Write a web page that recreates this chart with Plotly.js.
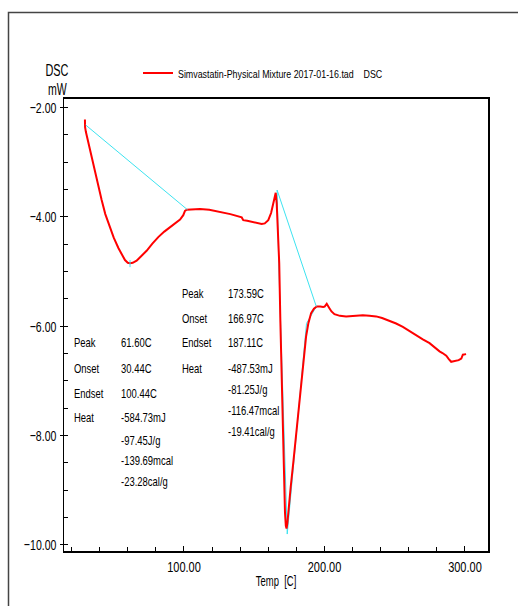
<!DOCTYPE html>
<html>
<head>
<meta charset="utf-8">
<script src="https://cdn.plot.ly/plotly-3.0.1.min.js"></script>
<style>html,body{margin:0;padding:0;background:#fff;}#chart{width:518px;height:606px;}</style>
</head>
<body>
<div id="chart"></div>
<script>
// ---- data ----
const temp = [29.5, 29.6, 30.2, 31.5, 33.1, 35, 36.7, 39, 41.4, 44, 47.3, 50, 53.3, 56, 58, 60, 61.6, 63.5, 66.3, 69.5, 73.4, 77.5, 81.7, 86, 90, 94, 97.2, 99.5, 100.7, 102, 106, 111.4, 118, 125.6, 133, 141.1, 142.2, 145, 149.3, 152, 155.3, 157.5, 160, 162, 163.6, 165.3, 166.0, 167.0, 167.8, 168.6, 169.5, 170.7, 171.9, 172.5, 173.0, 173.6, 174.2, 176, 178, 180, 182, 183.6, 184.5, 186.9, 188.5, 190.5, 192.5, 194.5, 197, 199, 200.1, 201.6, 203.5, 205, 207.1, 211, 215.4, 221, 227.3, 232, 236.8, 241, 246.3, 251, 255.8, 260, 265.3, 270, 274.8, 278, 281.9, 284, 286.7, 288.5, 290.2, 292, 293.8, 295.5, 297.4, 298.5, 300.8];
const dsc = [-2.22, -2.36, -2.45, -2.6, -2.78, -3.0, -3.2, -3.45, -3.69, -3.95, -4.18, -4.38, -4.57, -4.71, -4.79, -4.84, -4.85, -4.84, -4.8, -4.72, -4.62, -4.49, -4.37, -4.27, -4.19, -4.11, -4.05, -3.97, -3.89, -3.87, -3.86, -3.855, -3.87, -3.91, -3.95, -4.01, -4.06, -4.07, -4.09, -4.11, -4.13, -4.12, -4.06, -3.93, -3.76, -3.56, -3.75, -4.3, -4.85, -5.9, -6.98, -8.2, -9.41, -9.65, -9.7, -9.6, -9.41, -8.93, -8.45, -7.93, -7.35, -6.97, -6.8, -6.19, -5.95, -5.76, -5.68, -5.64, -5.64, -5.65, -5.64, -5.59, -5.67, -5.73, -5.78, -5.81, -5.82, -5.81, -5.8, -5.81, -5.82, -5.85, -5.9, -5.95, -6.01, -6.08, -6.16, -6.24, -6.31, -6.38, -6.46, -6.49, -6.54, -6.6, -6.65, -6.64, -6.63, -6.62, -6.59, -6.52, -6.51];

// baselines / peak fits (cyan)
const base1Temp = [30.0, 102.5];
const base1Dsc = [-2.32, -3.87];
const base2Temp = [166.3, 194.2];
const base2Dsc = [-3.51, -5.64];
const fit2Temp = [166.3, 167.5, 173.5, 184.4, 187.2, 194.2];
const fit2Dsc = [-3.51, -4.9, -9.8, -6.8, -5.95, -5.64];
const mark1Temp = [61.6, 61.6];
const mark1Dsc = [-4.79, -4.92];

const yTicks = [-10, -8, -6, -4, -2];
const xTicks = [100, 200, 300];

const seriesName = 'Simvastatin-Physical Mixture 2017-01-16.tad\u00A0\u00A0\u00A0\u00A0DSC';
const statNames1 = ['Peak', 'Onset', 'Endset', 'Heat'];
const statVals1 = ['61.60C', '30.44C', '100.44C', '-584.73mJ', '-97.45J/g', '-139.69mcal', '-23.28cal/g'];
const statNames2 = ['Peak', 'Onset', 'Endset', 'Heat'];
const statVals2 = ['173.59C', '166.97C', '187.11C', '-487.53mJ', '-81.25J/g', '-116.47mcal', '-19.41cal/g'];

// ---- layout helpers ----
const FONT = 'Liberation Sans, Arial, sans-serif';
const L = 64, R = 488, T = 99, B = 551, W = 518, H = 606;
const px2x = p => (p - L) / (R - L);
const px2y = p => (B - p) / (B - T);

const cyan = '#3de3f0';
const traces = [
  {x: fit2Temp, y: fit2Dsc, mode: 'lines', line: {color: cyan, width: 1}, showlegend: false},
  {x: temp, y: dsc, mode: 'lines', name: seriesName, line: {color: '#ff0000', width: 2}, showlegend: true},
  {x: base1Temp, y: base1Dsc, mode: 'lines', line: {color: cyan, width: 1}, showlegend: false},
  {x: base2Temp, y: base2Dsc, mode: 'lines', line: {color: cyan, width: 1}, showlegend: false},
  {x: mark1Temp, y: mark1Dsc, mode: 'lines', line: {color: cyan, width: 1}, showlegend: false}
];

const annotations = [];
const squeezeInfo = [];
function txt(s, xp, yp, size, anchor, ratio) {
  annotations.push({text: s, xref: 'paper', yref: 'paper', x: px2x(xp), y: px2y(yp),
    xanchor: anchor || 'left', yanchor: 'middle', showarrow: false,
    font: {family: FONT, size: size || 13.5, color: '#000'}});
  squeezeInfo.push({anchor: anchor || 'left', ratio: ratio || 0.7});
}
const rows1 = [342.7, 368, 393, 417.7, 440, 460.7, 481];
statNames1.forEach((s, i) => txt(s, 72, rows1[i]));
statVals1.forEach((s, i) => txt(s, 118.5, rows1[i]));
const rows2 = [293.3, 318.3, 342.7, 368.3, 389.3, 410, 431.7];
statNames2.forEach((s, i) => txt(s, 179.5, rows2[i]));
statVals2.forEach((s, i) => txt(s, 226, rows2[i]));
txt('DSC', 57, 70, 16, 'center', 0.68);
txt('mW', 57, 89, 16, 'center', 0.66);
txt('Temp\u00A0\u00A0[C]', 276, 580.5, 15, 'center', 0.63);

const layout = {
  width: W, height: H,
  margin: {l: L, r: W - R, t: T, b: H - B, pad: 0, autoexpand: false},
  paper_bgcolor: '#fff', plot_bgcolor: '#fff',
  font: {family: FONT, size: 13, color: '#000'},
  showlegend: true,
  legend: {x: px2x(138), y: px2y(73), xanchor: 'left', yanchor: 'middle',
    font: {family: FONT, size: 11.5, color: '#000'}, bgcolor: 'rgba(0,0,0,0)', borderwidth: 0},
  xaxis: {range: [14.6, 316.4], tickvals: xTicks, tickformat: '.2f', ticks: 'inside', ticklen: 5,
    tickcolor: '#000', showgrid: false, zeroline: false, showline: true, linecolor: '#000', linewidth: 2,
    mirror: true, minor: {dtick: 20, tick0: 0, ticks: 'inside', ticklen: 4, tickcolor: '#000', showgrid: false},
    tickfont: {family: FONT, size: 15.5, color: '#000'}},
  yaxis: {range: [-10.11, -1.845], tickvals: yTicks, tickformat: '.2f', ticks: 'outside', ticklen: 3,
    tickcolor: '#000', showgrid: false, zeroline: false, showline: true, linecolor: '#000', linewidth: 1.5,
    mirror: true, minor: {dtick: 0.5, tick0: 0, ticks: 'inside', ticklen: 4, tickcolor: '#000', showgrid: false},
    tickfont: {family: FONT, size: 15.5, color: '#000'}},
  annotations: annotations,
  shapes: [{type: 'rect', xref: 'paper', yref: 'paper', x0: px2x(8.5), x1: px2x(560), y0: px2y(660), y1: px2y(12.5),
    line: {color: '#444', width: 1.5}, fillcolor: 'rgba(0,0,0,0)'}]
};

// Narrow the text horizontally (the reference uses a condensed face)
function squeeze(el, ratio, anchor) {
  if (el.getAttribute('data-sq')) return;
  const len = el.getComputedTextLength();
  if (!len) return;
  const b0 = el.getBBox();
  el.setAttribute('textLength', (len * ratio).toFixed(2));
  el.setAttribute('lengthAdjust', 'spacingAndGlyphs');
  el.setAttribute('data-sq', '1');
  if (anchor) {
    const b1 = el.getBBox();
    let dx = 0;
    if (anchor === 'left') dx = b0.x - b1.x;
    else if (anchor === 'center') dx = (b0.x + b0.width / 2) - (b1.x + b1.width / 2);
    else dx = (b0.x + b0.width) - (b1.x + b1.width);
    const x = parseFloat(el.getAttribute('x') || '0');
    el.setAttribute('x', (x + dx).toFixed(2));
  }
}
function squeezeAll(gd) {
  gd.querySelectorAll('.annotation').forEach((g, i) => {
    const t = g.querySelector('text.annotation-text');
    if (t && squeezeInfo[i]) squeeze(t, squeezeInfo[i].ratio, squeezeInfo[i].anchor);
  });
  gd.querySelectorAll('.ytick text').forEach(t => squeeze(t, 0.68));
  gd.querySelectorAll('.xtick text').forEach(t => squeeze(t, 0.71));
  gd.querySelectorAll('text.legendtext').forEach(t => squeeze(t, 0.77));
}

Plotly.newPlot('chart', traces, layout, {displayModeBar: false, staticPlot: true}).then(gd => {
  squeezeAll(gd);
  gd.on('plotly_afterplot', () => squeezeAll(gd));
});
</script>
</body>
</html>
